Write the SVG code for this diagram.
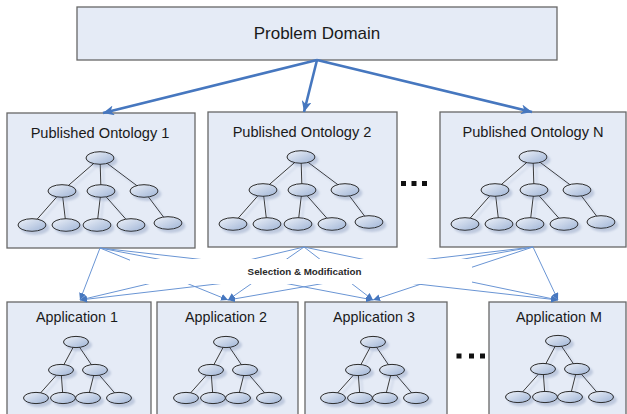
<svg xmlns="http://www.w3.org/2000/svg" xmlns:xlink="http://www.w3.org/1999/xlink" width="627" height="414" viewBox="0 0 627 414">
<style>
.box{fill:#e5ebf6;stroke:#676767;stroke-width:1.3}
.title{font-family:"Liberation Sans",Arial,sans-serif;fill:#1a1a1a;text-anchor:middle}
.edge{stroke:#3a3a3a;stroke-width:1}
.nd{fill:url(#ng);stroke:#2a2a2a;stroke-width:1}
.big{stroke:#4677bf;stroke-width:2.6;fill:none}
.thin{stroke:#6a95d4;stroke-width:1;fill:none}
.dot{fill:#111}
</style>
<defs>
<linearGradient id="ng" x1="0" y1="0" x2="1" y2="1">
<stop offset="0" stop-color="#eef2f9"/>
<stop offset="1" stop-color="#9fb4d6"/>
</linearGradient>
<filter id="sh" x="-20%" y="-20%" width="140%" height="150%">
<feGaussianBlur in="SourceAlpha" stdDeviation="1.2"/>
<feOffset dx="3" dy="3" result="b"/>
<feFlood flood-color="#8e9fc0" flood-opacity="0.45"/>
<feComposite in2="b" operator="in"/>
<feMerge><feMergeNode/><feMergeNode in="SourceGraphic"/></feMerge>
</filter>
<marker id="ab" markerUnits="userSpaceOnUse" markerWidth="12" markerHeight="10" refX="11" refY="5" orient="auto">
<path d="M0,0 L11,5 L0,10 L3,5 Z" fill="#4677bf"/>
</marker>
<marker id="at" markerUnits="userSpaceOnUse" markerWidth="8" markerHeight="7" refX="7" refY="3.5" orient="auto">
<path d="M0,0 L7,3.5 L0,7 Z" fill="#4677bf"/>
</marker>
<g id="otree" filter="url(#sh)">
<g class="edge">
<line x1="0" y1="0" x2="-38" y2="33"/><line x1="0" y1="0" x2="1" y2="33"/><line x1="0" y1="0" x2="44" y2="33"/>
<line x1="-38" y1="33" x2="-68" y2="67"/><line x1="-38" y1="33" x2="-34" y2="67"/>
<line x1="1" y1="33" x2="-3" y2="67"/><line x1="1" y1="33" x2="31" y2="67"/>
<line x1="44" y1="33" x2="68" y2="65"/>
</g>
<ellipse class="nd" cx="0" cy="0" rx="14" ry="6.3"/>
<ellipse class="nd" cx="-38" cy="33" rx="14" ry="6.3"/>
<ellipse class="nd" cx="1" cy="33" rx="14" ry="6.3"/>
<ellipse class="nd" cx="44" cy="33" rx="14" ry="6.3"/>
<ellipse class="nd" cx="-68" cy="67" rx="14" ry="6.3"/>
<ellipse class="nd" cx="-34" cy="67" rx="14" ry="6.3"/>
<ellipse class="nd" cx="-3" cy="67" rx="14" ry="6.3"/>
<ellipse class="nd" cx="31" cy="67" rx="14" ry="6.3"/>
<ellipse class="nd" cx="68" cy="65" rx="14" ry="6.3"/>
</g>
<g id="atree" filter="url(#sh)">
<g class="edge">
<line x1="0" y1="0" x2="-15" y2="28"/><line x1="0" y1="0" x2="19" y2="28"/>
<line x1="-15" y1="28" x2="-40" y2="56"/><line x1="-15" y1="28" x2="-13" y2="56"/>
<line x1="19" y1="28" x2="12" y2="56"/><line x1="19" y1="28" x2="43" y2="56"/>
</g>
<ellipse class="nd" cx="0" cy="0" rx="12.5" ry="5.6"/>
<ellipse class="nd" cx="-15" cy="28" rx="12.5" ry="5.6"/>
<ellipse class="nd" cx="19" cy="28" rx="12.5" ry="5.6"/>
<ellipse class="nd" cx="-40" cy="56" rx="12.5" ry="5.6"/>
<ellipse class="nd" cx="-13" cy="56" rx="12.5" ry="5.6"/>
<ellipse class="nd" cx="12" cy="56" rx="12.5" ry="5.6"/>
<ellipse class="nd" cx="43" cy="56" rx="12.5" ry="5.6"/>
</g>
</defs>
<rect width="627" height="414" fill="#ffffff"/>

<g id="problem-domain">
<rect class="box" x="77" y="7" width="480" height="53"/>
<text class="title" x="317" y="39" font-size="17">Problem Domain</text>
</g>

<g id="ontology-1">
<rect class="box" x="7" y="113" width="188" height="135"/>
<text class="title" x="100" y="138" font-size="14.6">Published Ontology 1</text>
<use xlink:href="#otree" x="100" y="158"/>
</g>
<g id="ontology-2">
<rect class="box" x="208" y="112" width="189" height="135"/>
<text class="title" x="302" y="137" font-size="14.6">Published Ontology 2</text>
<use xlink:href="#otree" x="301" y="157"/>
</g>
<g id="ontology-n">
<rect class="box" x="440" y="112" width="186" height="135"/>
<text class="title" x="533" y="137" font-size="14.6">Published Ontology N</text>
<use xlink:href="#otree" x="533" y="157"/>
</g>

<g id="dots-top">
<rect class="dot" x="401" y="181" width="5" height="5"/>
<rect class="dot" x="411.5" y="181" width="5" height="5"/>
<rect class="dot" x="422" y="181" width="5" height="5"/>
</g>

<g id="application-1">
<rect class="box" x="7" y="302" width="144" height="120"/>
<text class="title" x="77" y="322" font-size="14.3">Application 1</text>
<use xlink:href="#atree" x="76" y="342"/>
</g>
<g id="application-2">
<rect class="box" x="157" y="302" width="141" height="120"/>
<text class="title" x="226" y="322" font-size="14.3">Application 2</text>
<use xlink:href="#atree" x="226" y="342"/>
</g>
<g id="application-3">
<rect class="box" x="305" y="302" width="142" height="120"/>
<text class="title" x="374" y="322" font-size="14.3">Application 3</text>
<use xlink:href="#atree" x="373" y="342"/>
</g>
<g id="application-m">
<rect class="box" x="489" y="302" width="137" height="120"/>
<text class="title" x="559" y="322" font-size="14.3">Application M</text>
<use xlink:href="#atree" x="558" y="341"/>
</g>

<g id="dots-bottom">
<rect class="dot" x="456.5" y="353.5" width="5" height="5"/>
<rect class="dot" x="469" y="353.5" width="5" height="5"/>
<rect class="dot" x="480" y="353.5" width="5" height="5"/>
</g>

<g id="connectors">
<line class="big" x1="317" y1="60" x2="103" y2="113" marker-end="url(#ab)"/>
<line class="big" x1="317" y1="60" x2="304" y2="112" marker-end="url(#ab)"/>
<line class="big" x1="317" y1="60" x2="532" y2="112" marker-end="url(#ab)"/>

<line class="thin" x1="100" y1="248" x2="80" y2="300" marker-end="url(#at)"/>
<line class="thin" x1="100" y1="248" x2="228" y2="300" marker-end="url(#at)"/>
<line class="thin" x1="100" y1="248" x2="373" y2="300" marker-end="url(#at)"/>
<line class="thin" x1="100" y1="248" x2="558" y2="300" marker-end="url(#at)"/>

<line class="thin" x1="304" y1="247" x2="80" y2="300" marker-end="url(#at)"/>
<line class="thin" x1="304" y1="247" x2="228" y2="300" marker-end="url(#at)"/>
<line class="thin" x1="304" y1="247" x2="373" y2="300" marker-end="url(#at)"/>
<line class="thin" x1="304" y1="247" x2="558" y2="300" marker-end="url(#at)"/>

<line class="thin" x1="533" y1="247" x2="80" y2="300" marker-end="url(#at)"/>
<line class="thin" x1="533" y1="247" x2="228" y2="300" marker-end="url(#at)"/>
<line class="thin" x1="533" y1="247" x2="373" y2="300" marker-end="url(#at)"/>
<line class="thin" x1="533" y1="247" x2="558" y2="300" marker-end="url(#at)"/>

<rect x="130" y="259" width="342" height="25" fill="#ffffff"/>
<text x="304.5" y="274.5" font-family="'Liberation Sans',Arial,sans-serif" font-weight="bold" font-size="9.8" fill="#2a2a2a" text-anchor="middle">Selection &amp; Modification</text>
</g>
</svg>
